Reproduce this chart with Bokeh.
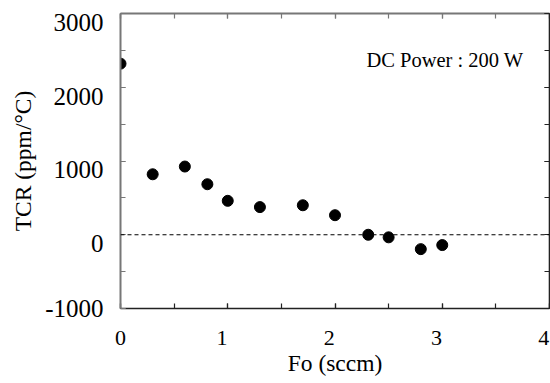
from bokeh.plotting import figure
from bokeh.models import (ColumnDataSource, Range1d, LinearAxis, SingleIntervalTicker,
                          FixedTicker, Span, Label, Title, CustomJSTickFormatter)
from bokeh.embed import file_html
from bokeh.resources import INLINE

# ---- data ----
fo = [0.0, 0.3, 0.6, 0.81, 1.0, 1.3, 1.7, 2.0, 2.31, 2.5, 2.8, 3.0]
tcr = [2320, 820, 925, 685, 460, 375, 400, 265, 0, -35, -195, -140]

x_ticks = [0, 1, 2, 3, 4]
x_tick_labels = ["0", "1", "2", "3", "4"]
y_ticks = [-1000, 0, 1000, 2000, 3000]
y_tick_labels = ["-1000", "0", "1000", "2000", "3000"]

x_title = "Fo (sccm)"
y_title = "TCR (ppm/°C)"
note = "DC Power : 200 W"

FONT = "Liberation Serif"

X0, X1 = 0, 4
Y0, Y1 = -1000, 3000
# in the printed figure the tick numbers sit slightly left of / below their ticks
X_LABEL_SHIFT = 0.0546875     # ~6 px, in x units
Y_LABEL_SHIFT = 120           # ~9 px, in y units

p = figure(width=550, height=383, output_backend="svg", toolbar_location=None,
           x_range=Range1d(X0, X1), y_range=Range1d(Y0, Y1),
           x_axis_type=None, y_axis_type=None)
p.extra_x_ranges = {"xlab": Range1d(X0 + X_LABEL_SHIFT, X1 + X_LABEL_SHIFT)}
p.extra_y_ranges = {"ylab": Range1d(Y0 + Y_LABEL_SHIFT, Y1 + Y_LABEL_SHIFT)}
p.min_border_left = 120
p.min_border_right = 1
p.min_border_top = 13
p.min_border_bottom = 75
p.outline_line_color = None
p.xgrid.visible = False
p.ygrid.visible = False
p.background_fill_color = "white"
p.border_fill_color = "white"


def tick_axis(kind, color, width):
    ticker = (SingleIntervalTicker(interval=1, num_minor_ticks=2) if kind == "x"
              else SingleIntervalTicker(interval=1000, num_minor_ticks=2))
    ax = LinearAxis(ticker=ticker)
    ax.axis_line_color = color
    ax.axis_line_width = width
    ax.major_tick_line_color = color
    ax.minor_tick_line_color = color
    ax.major_tick_line_width = 1.2
    ax.minor_tick_line_width = 1.2
    ax.major_tick_in = 5
    ax.major_tick_out = 0
    ax.minor_tick_in = 5
    ax.minor_tick_out = 0
    ax.major_label_standoff = 0
    ax.major_label_text_font_size = "1px"
    ax.formatter = CustomJSTickFormatter(code="return ''")
    return ax


def label_axis(kind, ticks, labels, size, standoff):
    # numbers drawn on a slightly shifted range; a tick that would fall just
    # outside the frame is pinned to the frame edge
    if kind == "x":
        lo = X0 + X_LABEL_SHIFT
        pos = [max(t, lo) for t in ticks]
        ax = LinearAxis(x_range_name="xlab", ticker=FixedTicker(ticks=pos))
    else:
        lo = Y0 + Y_LABEL_SHIFT
        pos = [max(t, lo) for t in ticks]
        ax = LinearAxis(y_range_name="ylab", ticker=FixedTicker(ticks=pos))
    ax.axis_line_color = None
    ax.major_tick_line_color = None
    ax.minor_tick_line_color = None
    ax.major_tick_in = 0
    ax.major_tick_out = 0
    ax.minor_tick_in = 0
    ax.minor_tick_out = 0
    ax.major_label_standoff = standoff
    ax.major_label_text_font = FONT
    ax.major_label_text_font_size = size
    ax.major_label_text_color = "black"
    ax.major_label_overrides = dict(zip(pos, labels))
    return ax


p.add_layout(tick_axis("y", "#777777", 2), "left")
ylab = label_axis("y", y_ticks, y_tick_labels, "25px", 17)
ylab.axis_label = y_title
ylab.axis_label_standoff = 6
ylab.axis_label_text_font = FONT
ylab.axis_label_text_font_size = "23.5px"
ylab.axis_label_text_font_style = "normal"
ylab.axis_label_text_color = "black"
p.add_layout(ylab, "left")

p.add_layout(tick_axis("x", "#222222", 1.6), "below")
p.add_layout(label_axis("x", x_ticks, x_tick_labels, "22px", 22), "below")
p.add_layout(tick_axis("y", "#222222", 1.6), "right")
p.add_layout(tick_axis("x", "#777777", 2), "above")

p.add_layout(Title(text=x_title, align="center", offset=5, standoff=0,
                   text_font=FONT, text_font_size="23.5px", text_font_style="normal",
                   text_color="black"), "below")

# zero reference line
p.add_layout(Span(location=0, dimension="width", line_color="black",
                  line_width=1.2, line_dash="4 3"))

# data points
src = ColumnDataSource(dict(x=fo, y=tcr))
p.scatter("x", "y", source=src, size=11, marker="circle",
          fill_color="black", line_color="black")

# annotation
p.add_layout(Label(x=3.758, y=2363, text=note,
                   text_align="right", text_baseline="alphabetic",
                   text_font=FONT, text_font_size="20.5px", text_color="black"))

open("out.html", "w").write(file_html(p, INLINE))
